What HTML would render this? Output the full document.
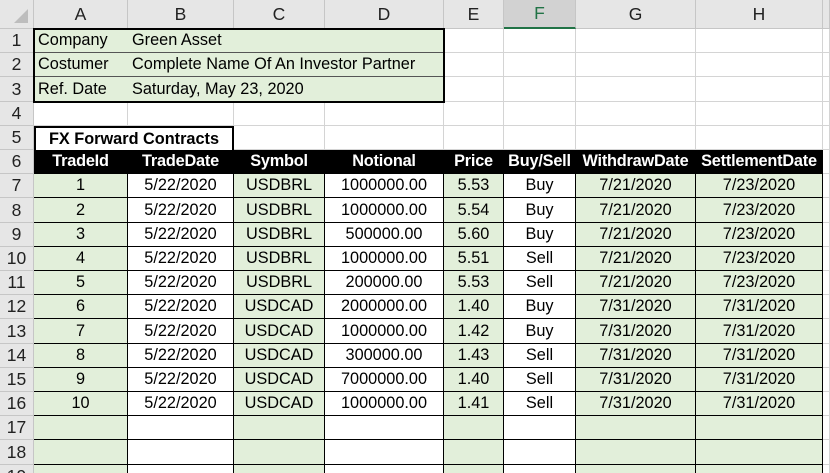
<!DOCTYPE html>
<html><head><meta charset="utf-8">
<style>
html,body{margin:0;padding:0;width:830px;height:473px;overflow:hidden;background:#fff;font-family:"Liberation Sans",sans-serif;}
#sheet{position:relative;width:830px;height:473px;}
.c{position:absolute;box-sizing:border-box;display:flex;align-items:center;justify-content:center;font-size:16.3px;color:#000;white-space:nowrap;overflow:hidden;border-right:1px solid #d4d4d4;border-bottom:1px solid #d4d4d4;}
.hd{background:#e6e6e6;border-right:1px solid #c6c6c6;border-bottom:1px solid #c6c6c6;font-size:17.5px;color:#222;}
.g{background:#e2efda;}
.blk{background:#000;color:#fff;font-weight:bold;border-color:#000;letter-spacing:-0.2px;}
.tb{border-right:1px solid #000;border-bottom:1px solid #000;}
.l{justify-content:flex-start;padding-left:4px;}
</style></head>
<body>
<div id="sheet"></div>
<script>
const colLetters=["A","B","C","D","E","F","G","H",""];
const colX=[0,34,128,234,325,444,504,576,696,823,830];
const rowH=24.2, top0=29;
const info=[["Company","Green Asset"],["Costumer","Complete Name Of An Investor Partner"],["Ref. Date","Saturday, May 23, 2020"]];
const headers=["TradeId","TradeDate","Symbol","Notional","Price","Buy/Sell","WithdrawDate","SettlementDate"];
const tradeIds=["1","2","3","4","5","6","7","8","9","10"];
const tradeDates=["5/22/2020","5/22/2020","5/22/2020","5/22/2020","5/22/2020","5/22/2020","5/22/2020","5/22/2020","5/22/2020","5/22/2020"];
const symbols=["USDBRL","USDBRL","USDBRL","USDBRL","USDBRL","USDCAD","USDCAD","USDCAD","USDCAD","USDCAD"];
const notionals=["1000000.00","1000000.00","500000.00","1000000.00","200000.00","2000000.00","1000000.00","300000.00","7000000.00","1000000.00"];
const prices=["5.53","5.54","5.60","5.51","5.53","1.40","1.42","1.43","1.40","1.41"];
const sides=["Buy","Buy","Buy","Sell","Sell","Buy","Buy","Sell","Sell","Sell"];
const withdraws=["7/21/2020","7/21/2020","7/21/2020","7/21/2020","7/21/2020","7/31/2020","7/31/2020","7/31/2020","7/31/2020","7/31/2020"];
const settles=["7/23/2020","7/23/2020","7/23/2020","7/23/2020","7/23/2020","7/31/2020","7/31/2020","7/31/2020","7/31/2020","7/31/2020"];
const greenCols=[0,2,4,6,7];
const sheet=document.getElementById('sheet');
function rowTop(r){return r===0?0:Math.round(top0+rowH*(r-1));}
function mk(x,y,w,h,cls,text){
  const d=document.createElement('div');
  d.className='c '+cls;
  d.style.left=x+'px';d.style.top=y+'px';d.style.width=w+'px';d.style.height=h+'px';
  d.textContent=text||'';
  sheet.appendChild(d);return d;
}
let corner=mk(0,0,34,29,'hd','');


corner.innerHTML='<svg width="20" height="20" style="position:absolute;right:3px;bottom:3px"><polygon points="18,4 18,18 4,18" fill="#bdbdbd"/></svg>';
for(let c=0;c<9;c++){
  const d=mk(colX[c+1],0,colX[c+2]-colX[c+1],29,'hd',colLetters[c]);
  
  
  if(c===5){d.style.background='#d2d2d2';d.style.color='#217346';d.style.borderBottom='2px solid #217346';}
}
for(let r=1;r<=19;r++){
  const y=rowTop(r),h=rowTop(r+1)-y;
  const rh=mk(0,y,34,h,'hd',String(r));
  
  
  for(let c=0;c<9;c++){
    const x=colX[c+1],w=colX[c+2]-x;
    let cls='',text='';
    if(r<=3&&c<4){cls='g l';if(c===0)text=info[r-1][0];if(c===1)text=info[r-1][1];}
    else if(r===6&&c<8){cls='blk';text=headers[c];}
    else if(r>=7&&c<8){
      cls='tb'+(greenCols.includes(c)?' g':'');
      const i=r-7;
      if(i<10){text=[tradeIds,tradeDates,symbols,notionals,prices,sides,withdraws,settles][c][i];}
    }
    if(r===5&&c===1)continue;
    const d=mk(x,y,w,h,cls,text);
    if(r<=3&&c<4){
      d.style.borderRight='none';d.style.borderBottom=r<3?'1px solid #555':'none';
      if(c===1){d.style.overflow='visible';d.style.zIndex=2;}
    }
    if(r===6&&c<8){d.style.overflow='visible';d.style.zIndex=2;}
    if(r===5&&c===0){
      d.style.width=(colX[3]-colX[1])+'px';d.textContent='FX Forward Contracts';
      d.style.fontWeight='bold';d.style.border='2px solid #000';d.style.borderBottom='none';
      
    } else if(r===6&&c<8){
      
    } else {
      
    }
    
  }
}
const box=document.createElement('div');
box.style.cssText='position:absolute;left:33px;top:28px;width:'+(colX[5]-33+1)+'px;height:'+(rowTop(4)-28+1)+'px;border:2px solid #000;box-sizing:border-box;pointer-events:none;z-index:3';


sheet.appendChild(box);
</script>
</body></html>
